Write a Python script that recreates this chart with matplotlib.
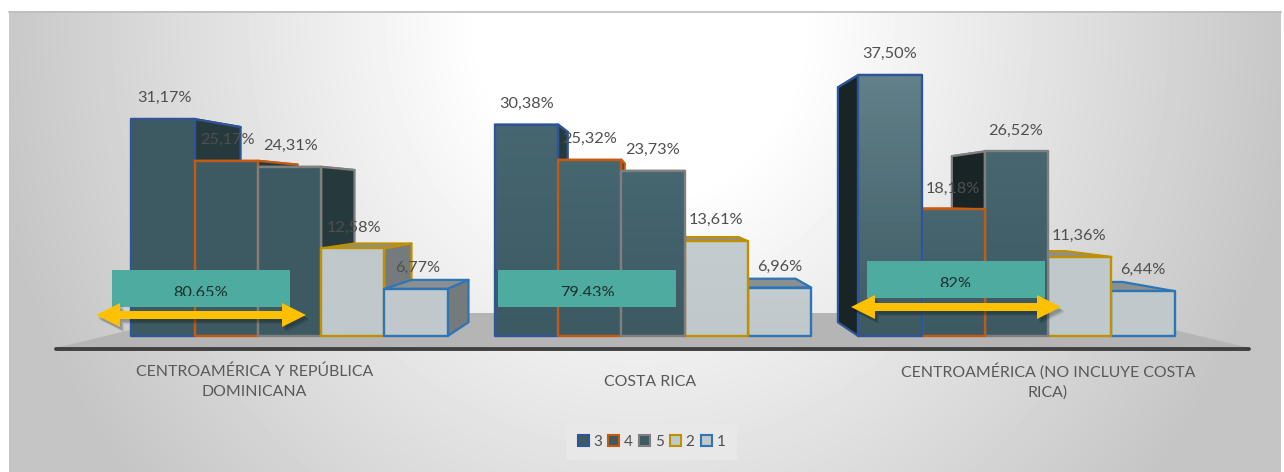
import numpy as np
import matplotlib
matplotlib.use("Agg")
import matplotlib.pyplot as plt
from matplotlib.patches import Polygon, Rectangle, Patch
from matplotlib.colors import to_rgb, LinearSegmentedColormap

# ---- data ----
categories = ["CENTROAMÉRICA Y REPÚBLICA\nDOMINICANA", "COSTA RICA",
              "CENTROAMÉRICA (NO INCLUYE COSTA\nRICA)"]
series_names = ["3", "4", "5", "2", "1"]
series_3 = [31.17, 30.38, 37.50]
series_4 = [25.17, 25.32, 18.18]
series_5 = [24.31, 23.73, 26.52]
series_2 = [12.58, 13.61, 11.36]
series_1 = [6.77, 6.96, 6.44]
totals = ["80,65%", "79,43%", "82%"]

# ---- style ----
W, H = 1284, 472
FONT = "Lato"
plt.rcParams["font.family"] = [FONT, "DejaVu Sans"]
edge_colors = ["#2f5597", "#c55a11", "#7f7f7f", "#bf9000", "#2e75b6"]
dark_side = ["#263a3e", "#263a3e", "#182426"]
front_top = [["#3d5a63"] * 3 + ["#bfc8cb"] * 2,
             ["#466670"] * 3 + ["#c3cccf"] * 2,
             ["#628089", "#47666f", "#47666f", "#c0c9cc", "#c0c9cc"]]
front_bottom = [["#3d5a63"] * 3 + ["#bfc8cb"] * 2,
                ["#3d5a63"] * 3 + ["#bfc8cb"] * 2,
                ["#3d5a63"] * 3 + ["#bfc8cb"] * 2]
light_side, light_top = "#757b7d", "#8a9090"
text_col = "#4f4f4f"
label_dx = [1.5, 0.0, -0.5]

fig = plt.figure(figsize=(W / 100, H / 100), dpi=100, facecolor="white")

# pixel-space helper axes (background and annotations)
bg = fig.add_axes([0, 0, 1, 1], zorder=0)
ov = fig.add_axes([0, 0, 1, 1], zorder=2)
for a in (bg, ov):
    a.set_xlim(0, W)
    a.set_ylim(H, 0)
    a.axis("off")
    a.patch.set_alpha(0)

# background radial gradient
yy, xx = np.mgrid[11:H, 9:1281]
r = np.sqrt(((xx - 640) / 640.0) ** 2 + ((yy - 20) / 700.0) ** 2)
t = np.clip((r - 0.25) / 0.78, 0, 1)
bg.imshow(255 - 58 * t, extent=(9, 1281, H, 11), cmap="gray", vmin=0, vmax=255,
          aspect="auto", zorder=0)
bg.set_xlim(0, W)
bg.set_ylim(H, 0)
bg.plot([9, 1281], [11.5, 11.5], color="#bdbdbd", lw=1.2, zorder=1)
# floor
bg.add_patch(Polygon([(60, 347), (200, 313), (1105, 313), (1245, 347)],
                     closed=True, fc="#b5b5b5", ec="none", zorder=2))
bg.plot([56, 1249], [349, 349], color="#404040", lw=2.8, solid_capstyle="round", zorder=3)

# data axes: 1 x-unit is one category step, y is percent
STEP, X0, PX_PER_PCT, Y0 = 363.5, 289.5, 6.96, 336.0
ax = fig.add_axes([0, 0, 1, 1], zorder=1)
ax.set_xlim((0 - X0) / STEP, (W - X0) / STEP)
ax.set_ylim((Y0 - H) / PX_PER_PCT, Y0 / PX_PER_PCT)
ax.axis("off")
ax.patch.set_alpha(0)

BAR_W = 63.3 / STEP
VP = ((655 - X0) / STEP, (Y0 - 199) / PX_PER_PCT)
K = 0.10


def back(x, y):
    return x + K * (VP[0] - x), y + K * (VP[1] - y)


series = [series_3, series_4, series_5, series_2, series_1]
bars = []
for g in range(len(categories)):
    for s in range(len(series)):
        xc = g + (s - 2) * BAR_W
        bars.append((abs(xc - VP[0]), g, s, xc, series[s][g]))
bars.sort(key=lambda b: -b[0])

z = 2
for _, g, s, xc, v in bars:
    xl, xr = xc - BAR_W / 2, xc + BAR_W / 2
    ec = edge_colors[s]
    is_dark = s < 3
    # top face
    (bl, bt), (br, _) = back(xl, v), back(xr, v)
    ax.add_patch(Polygon([(xl, v), (xr, v), (br, bt), (bl, bt)], closed=True,
                         fc="#2b3f44" if is_dark else light_top, ec=ec, lw=1.6,
                         joinstyle="round", zorder=z))
    # side face facing the vanishing point
    sx = xr if xr < VP[0] else (xl if xl > VP[0] else None)
    if sx is not None:
        bx, by0 = back(sx, 0)
        _, byv = back(sx, v)
        ax.add_patch(Polygon([(sx, 0), (sx, v), (bx, byv), (bx, by0)], closed=True,
                             fc=dark_side[g] if is_dark else light_side, ec=ec, lw=1.6,
                             joinstyle="round", zorder=z))
    # front face with a vertical gradient
    cm = LinearSegmentedColormap.from_list(
        "f", [to_rgb(front_bottom[g][s]), to_rgb(front_top[g][s])])
    ax.imshow(np.linspace(1, 0, 32)[:, None], extent=(xl, xr, 0, v), cmap=cm,
              vmin=0, vmax=1, aspect="auto", zorder=z + 0.1)
    ax.add_patch(Rectangle((xl, 0), BAR_W, v, fc="none", ec=ec, lw=1.7,
                           joinstyle="round", zorder=z + 0.2))
    z += 1
ax.set_xlim((0 - X0) / STEP, (W - X0) / STEP)
ax.set_ylim((Y0 - H) / PX_PER_PCT, Y0 / PX_PER_PCT)

# value labels
for g in range(len(categories)):
    for s in range(len(series)):
        v = series[s][g]
        xc = g + (s - 2) * BAR_W
        ax.text(xc + label_dx[g] / STEP, v + 21 / PX_PER_PCT, f"{v:.2f}%".replace(".", ","),
                ha="center", va="center", fontsize=11.7, color=text_col, zorder=200)

# category labels
for lab, cx in zip(categories, [254.5, 650, 1048]):
    ov.text(cx, 381.5, lab, ha="center", va="center", fontsize=11.4, color="#595959",
            linespacing=1.55)

# teal boxes with clipped text
box_x = [112, 498, 867]
box_y = [270, 270, 261]
text_x = [201, 587, 955]
for lab, bx, by, tx in zip(totals, box_x, box_y, text_x):
    ov.add_patch(Rectangle((bx, by), 178, 37, fc="#4eaba0", ec="none", zorder=3))
    tt = ov.text(tx, by + 22.5, lab, ha="center", va="center", fontsize=11.7,
                 color="#1f2f2e", zorder=4)
    tt.set_clip_path(Rectangle((bx, by), 178, 25.5, transform=ov.transData))
    tt.set_clip_on(True)


# double arrows
def arrow_pts(x0, x1, y, shaft=4.0, head_w=12.0, head_l=24.0):
    return [(x0, y), (x0 + head_l, y - head_w), (x0 + head_l, y - shaft),
            (x1 - head_l, y - shaft), (x1 - head_l, y - head_w), (x1, y),
            (x1 - head_l, y + head_w), (x1 - head_l, y + shaft),
            (x0 + head_l, y + shaft), (x0 + head_l, y + head_w)]


for x0, x1, y in [(96, 306, 315), (851, 1061, 307)]:
    pts = arrow_pts(x0, x1, y)
    for d, al in [(5, 0.08), (4, 0.10), (3, 0.12)]:
        ov.add_patch(Polygon([(px + d - 1, py + d) for px, py in pts], closed=True,
                             fc="black", ec="none", alpha=al, zorder=5))
    ov.add_patch(Polygon(pts, closed=True, fc="#ffc000", ec="none", zorder=6))

# legend
dark_fill = ["#3d5a63", "#3d5a63", "#3d5a63", "#bfc8cb", "#bfc8cb"]
handles = [Patch(facecolor=f, edgecolor=e, linewidth=1.5, label=n)
           for f, e, n in zip(dark_fill, edge_colors, series_names)]
leg = ov.legend(handles=handles, ncol=5, loc="center",
                bbox_to_anchor=(651.5 / W, 1 - 442 / H), bbox_transform=fig.transFigure,
                frameon=True, facecolor="#e8e8e8", edgecolor="none", framealpha=1,
                fancybox=False, fontsize=11, handlelength=0.72, handleheight=0.72,
                handletextpad=0.3, columnspacing=0.42, borderpad=0.75, labelcolor="#4f4f4f")
leg.set_zorder(10)

fig.savefig("out.png", dpi=100, facecolor="white")
